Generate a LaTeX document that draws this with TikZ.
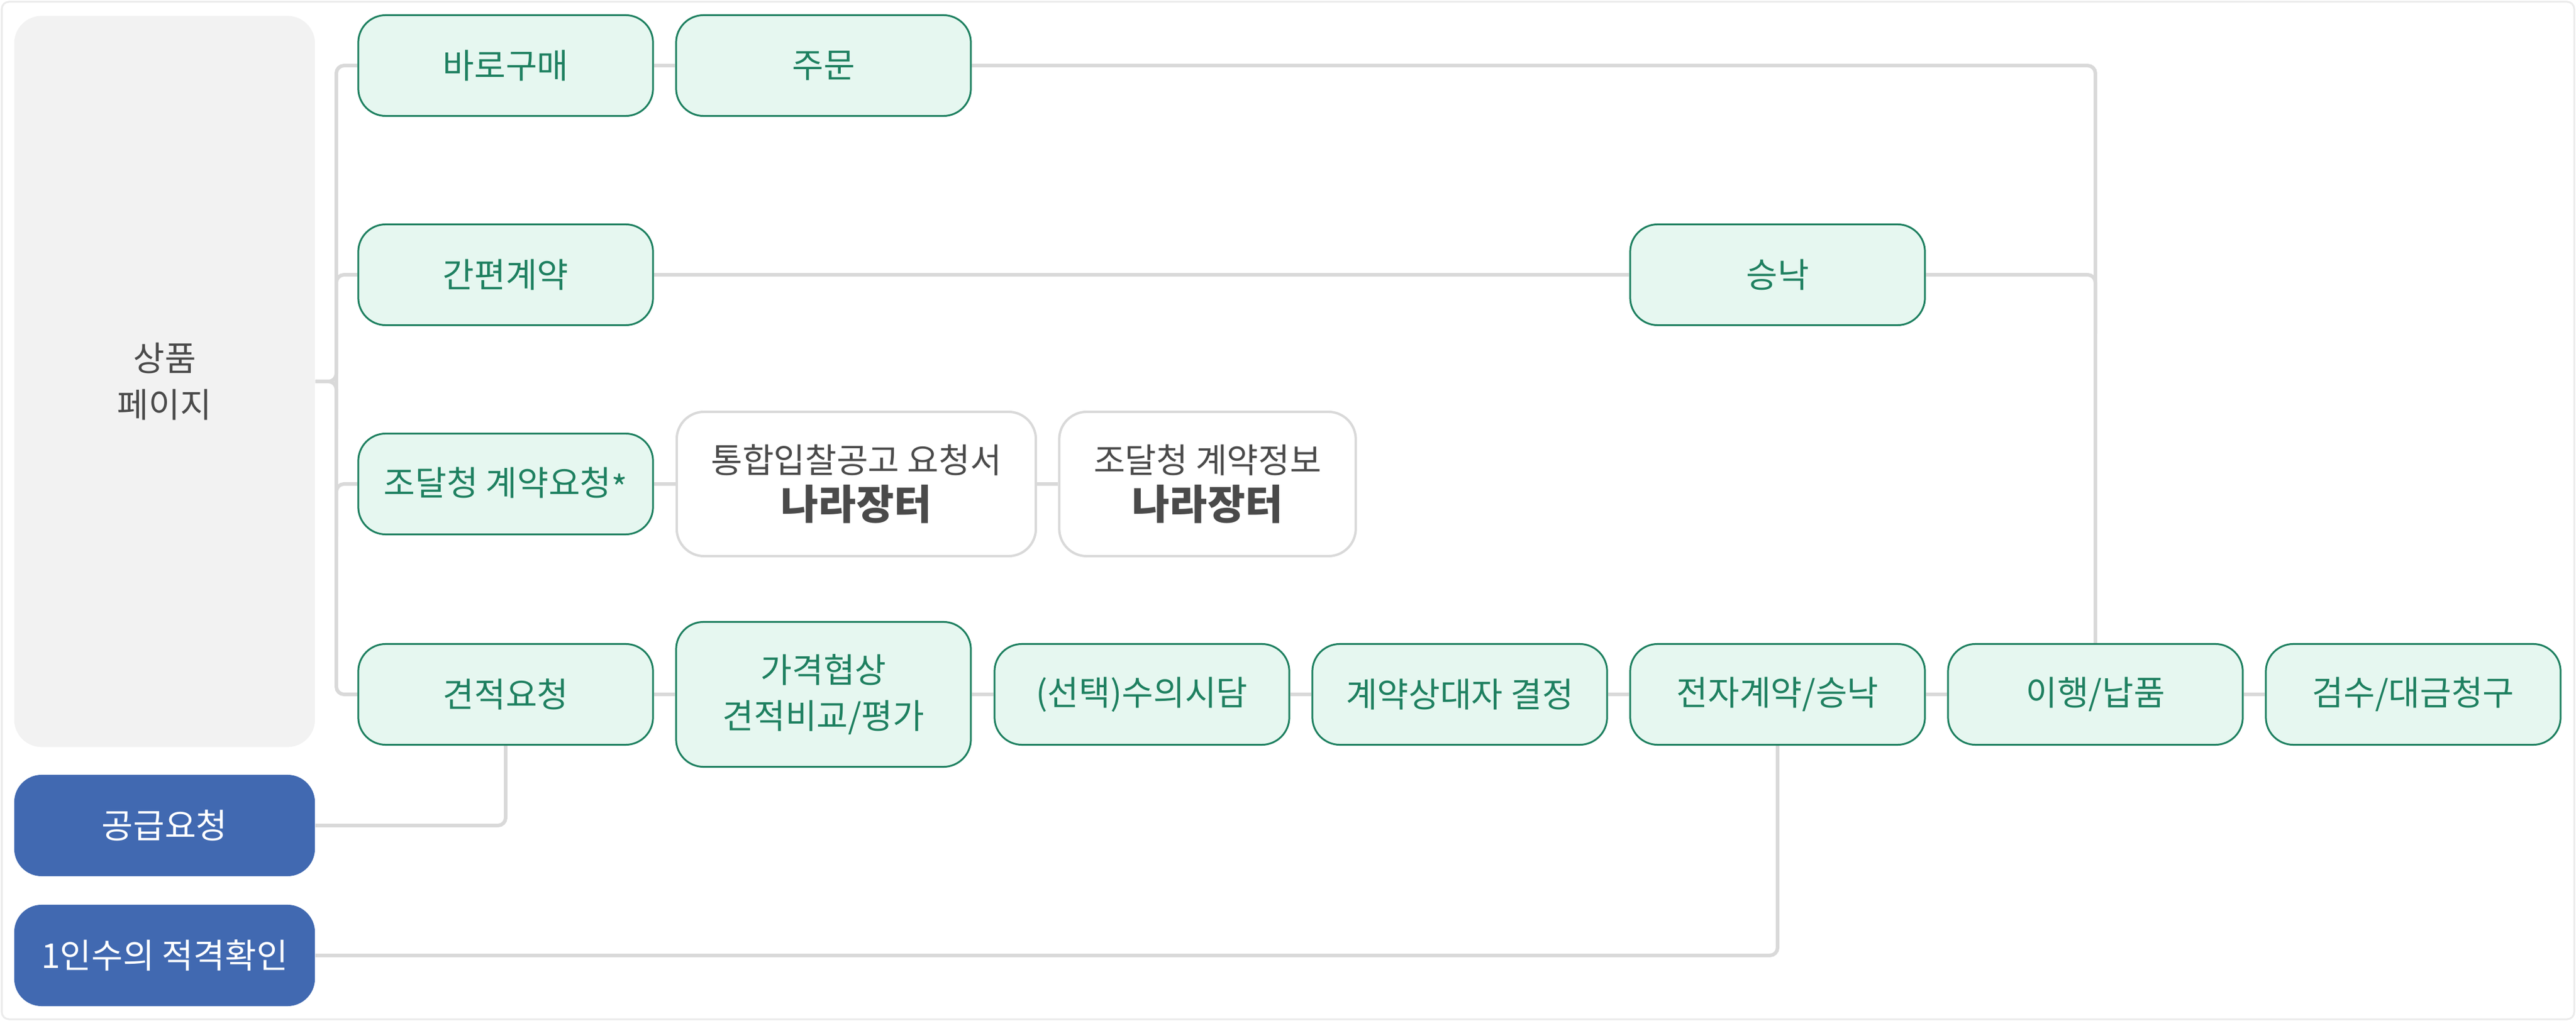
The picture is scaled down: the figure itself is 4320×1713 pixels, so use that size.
\documentclass[tikz,border=0pt]{standalone}
\usepackage{fontspec}
\setmainfont{Noto Sans CJK KR}
\definecolor{grn}{HTML}{1E8060}
\definecolor{grnfill}{HTML}{E6F7F0}
\definecolor{lgray}{HTML}{D9D9D9}
\definecolor{dgray}{HTML}{4A4A4A}
\definecolor{blu}{HTML}{4169B1}
\definecolor{pagebg}{HTML}{F2F2F2}
\definecolor{framecol}{HTML}{EBEBEB}
\newcommand{\mainsize}{\fontsize{16.3pt}{22pt}\selectfont}
\newcommand{\bigsize}{\fontsize{19.5pt}{23pt}\selectfont\bfseries}
\pgfdeclarelayer{bg}
\pgfsetlayers{bg,main}
\begin{document}
\begin{tikzpicture}[x=0.01cm,y=-0.01cm,
  box/.style={draw=grn, fill=grnfill, line width=0.03cm, rounded corners=0.46cm,
    minimum width=4.94cm, minimum height=1.69cm, inner sep=0pt, text=grn,
    font=\mainsize, align=center},
  tallbox/.style={box, minimum height=2.43cm},
  wbox/.style={draw=lgray, fill=white, line width=0.04cm, rounded corners=0.46cm,
    minimum height=2.42cm, inner sep=0pt, text=dgray, align=center, font=\mainsize},
  bbox/.style={fill=blu, text=white, rounded corners=0.46cm, minimum width=5.04cm,
    minimum height=1.70cm, inner sep=0pt, font=\mainsize, align=center},
  pagebox/.style={fill=pagebg, text=dgray, rounded corners=0.46cm, minimum width=5.04cm,
    minimum height=12.26cm, inner sep=0pt, font=\mainsize, align=center},
  conn/.style={draw=lgray, line width=0.06cm, rounded corners=0.13cm}]
\useasboundingbox (0,0) rectangle (4320,1713);
\begin{pgfonlayer}{bg}
\fill[white] (0,0) rectangle (4320,1713);
\draw[framecol, line width=0.03cm, rounded corners=0.12cm] (3,3) rectangle (4317,1710);
\end{pgfonlayer}

% left column
\node[pagebox] (sangpum) at (276,640) {상품\\페이지};
\node[bbox] (gonggeup) at (276,1385) {공급요청};
\node[bbox] (inswu) at (276,1603) {1인수의 적격확인};

% row 1
\node[box] (baro) at (848,110) {바로구매};
\node[box] (jumun) at (1381,110) {주문};
% row 2
\node[box] (ganpyeon) at (848,461) {간편계약};
\node[box] (seungnak) at (2981,461) {승낙};
% row 3
\node[box] (jodal) at (848,812) {조달청 계약요청\raisebox{-0.3ex}{*}};
\node[wbox, minimum width=6.02cm] (tonghap) at (1436,812) {통합입찰공고 요청서\\{\bigsize 나라장터}};
\node[wbox, minimum width=4.97cm] (jodalinfo) at (2025,812) {조달청 계약정보\\{\bigsize 나라장터}};
% row 4
\node[box] (gyeonjeok) at (848,1165) {견적요청};
\node[tallbox] (gagyeok) at (1381,1165) {가격협상\\견적비교/평가};
\node[box] (suui) at (1915,1165) {(선택)수의시담};
\node[box] (gyeyak) at (2448,1165) {계약상대자 결정};
\node[box] (jeonja) at (2981,1165) {전자계약/승낙};
\node[box] (ihaeng) at (3514,1165) {이행/납품};
\node[box] (geomsu) at (4047,1165) {검수/대금청구};

\begin{pgfonlayer}{bg}
% bracket from product page
\draw[conn] (baro.west) -- (564,110) -- (564,1165) -- (gyeonjeok.west);
\draw[conn] (ganpyeon.west) -- (564,461) -- (564,560);
\draw[conn] (jodal.west) -- (564,812) -- (564,900);
\draw[conn] (sangpum.east) -- (564,640) -- (564,560);
\draw[conn] (sangpum.east) -- (564,640) -- (564,720);
% row links
\draw[conn] (baro.east) -- (jumun.west);
\draw[conn] (jumun.east) -- (3514,110) -- (ihaeng.north);
\draw[conn] (ganpyeon.east) -- (seungnak.west);
\draw[conn] (seungnak.east) -- (3514,461) -- (3514,560);
\draw[conn] (jodal.east) -- (tonghap.west);
\draw[conn] (tonghap.east) -- (jodalinfo.west);
\draw[conn] (gyeonjeok.east) -- (gagyeok.west);
\draw[conn] (gagyeok.east) -- (suui.west);
\draw[conn] (suui.east) -- (gyeyak.west);
\draw[conn] (gyeyak.east) -- (jeonja.west);
\draw[conn] (jeonja.east) -- (ihaeng.west);
\draw[conn] (ihaeng.east) -- (geomsu.west);
% supplier links
\draw[conn] (gonggeup.east) -- (848,1385) -- (gyeonjeok.south);
\draw[conn] (inswu.east) -- (2981,1603) -- (jeonja.south);
\end{pgfonlayer}
\end{tikzpicture}
\end{document}
